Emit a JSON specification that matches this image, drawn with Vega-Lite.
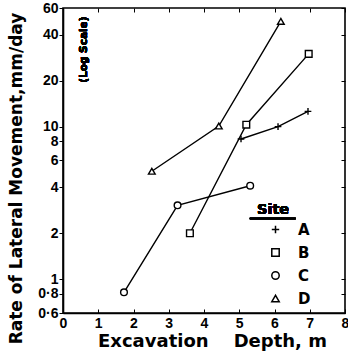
{
  "$schema": "https://vega.github.io/schema/vega-lite/v6.json",
  "width": 282,
  "height": 305,
  "autosize": {"type": "none"},
  "padding": {"left": 63, "top": 8, "right": 3, "bottom": 48},
  "background": "white",
  "config": {
    "view": {"stroke": "black", "strokeWidth": 1.6},
    "font": "DejaVu Sans",
    "axis": {"grid": false, "domainColor": "black", "tickColor": "black", "labelColor": "black", "titleColor": "black", "labelFont": "Liberation Sans", "labelFontWeight": "bold", "labelFontSize": 14, "titleFont": "DejaVu Sans", "titleFontWeight": "bold"}
  },
  "data": {
    "values": [
      {"Site": "A", "depth": 5.05, "rate": 8.3},
      {"Site": "A", "depth": 6.1, "rate": 10},
      {"Site": "A", "depth": 6.95, "rate": 12.6},
      {"Site": "B", "depth": 3.6, "rate": 2},
      {"Site": "B", "depth": 5.2, "rate": 10.3},
      {"Site": "B", "depth": 6.97, "rate": 30},
      {"Site": "C", "depth": 1.73, "rate": 0.82},
      {"Site": "C", "depth": 3.25, "rate": 3.05},
      {"Site": "C", "depth": 5.31, "rate": 4.1},
      {"Site": "D", "depth": 2.52, "rate": 5.1},
      {"Site": "D", "depth": 4.42, "rate": 10.1},
      {"Site": "D", "depth": 6.18, "rate": 49}
    ]
  },
  "resolve": {"axis": {"x": "independent", "y": "independent"}},
  "layer": [
    {
      "mark": {"type": "line", "color": "black", "strokeWidth": 1.4},
      "encoding": {
        "x": {"field": "depth", "type": "quantitative", "scale": {"domain": [0, 8], "nice": false, "zero": false},
          "axis": {"orient": "bottom", "values": [0,1,2,3,4,5,6,7,8], "tickSize": -4, "labelPadding": 7, "domain": true, "domainWidth": 1.6, "labelFlush": false, "title": "Excavation\u00a0\u00a0\u00a0\u00a0Depth, m", "titleFontSize": 18, "titleX": 149, "titleY": 19, "titleBaseline": "top"}},
        "y": {"field": "rate", "type": "quantitative", "scale": {"type": "log", "domain": [0.6, 60], "nice": false},
          "axis": {"orient": "left", "values": [0.6, 0.8, 1, 2, 4, 6, 8, 10, 20, 40, 60], "tickSize": 4, "labelPadding": 1, "labelFlush": false, "labelExpr": "replace(format(datum.value, '~g'), '.', '·')", "domainWidth": 1.6, "title": "Rate of Lateral Movement,mm/day", "titleFontSize": 17, "titleX": -38, "titleY": 170, "titleAngle": 270, "titleBaseline": "bottom"}},
        "detail": {"field": "Site"}
      }
    },
    {
      "mark": {"type": "point", "filled": false, "fill": "white", "color": "black", "strokeWidth": 1.4, "size": 45, "opacity": 1},
      "encoding": {
        "x": {"field": "depth", "type": "quantitative", "scale": {"domain": [0, 8], "nice": false, "zero": false},
          "axis": {"orient": "top", "values": [0,1,2,3,4,5,6,7,8], "tickSize": -4, "labels": false, "domain": false, "title": null}},
        "y": {"field": "rate", "type": "quantitative", "scale": {"type": "log", "domain": [0.6, 60], "nice": false},
          "axis": {"orient": "right", "values": [0.6, 0.8, 1, 2, 4, 6, 8, 10, 20, 40, 60], "tickSize": -4, "labels": false, "domain": false, "title": null}},
        "shape": {"field": "Site", "type": "nominal", "scale": {"domain": ["A", "B", "C", "D"], "range": ["M-1,0H1M0,-1V1", "square", "circle", "triangle-up"]},
          "legend": {"orient": "none", "legendX": 205, "legendY": 214, "title": null, "labelFont": "DejaVu Sans", "labelFontWeight": "bold", "labelFontSize": 15, "labelColor": "black", "labelOffset": 15, "symbolSize": 55, "rowPadding": 7,
            "encode": {"symbols": {"update": {"stroke": {"value": "black"}, "fill": {"value": "white"}, "strokeWidth": {"value": 1.6}, "opacity": {"value": 1}}}}}}
      }
    },
    {
      "mark": {"type": "text", "angle": 270, "baseline": "middle", "align": "center", "font": "DejaVu Sans", "fontWeight": "bold", "fontSize": 10.5, "color": "black", "text": "(Log Scale)"},
      "encoding": {"x": {"datum": 0.6, "type": "quantitative", "axis": null}, "y": {"datum": 32, "type": "quantitative", "axis": null}}
    },
    {
      "mark": {"type": "text", "baseline": "alphabetic", "align": "center", "font": "DejaVu Sans", "fontWeight": "bold", "fontSize": 14.5, "color": "black", "text": "Site"},
      "encoding": {"x": {"datum": 5.96, "type": "quantitative", "axis": null}, "y": {"datum": 2.69, "type": "quantitative", "axis": null}}
    },
    {
      "mark": {"type": "rule", "color": "black", "strokeWidth": 1.3},
      "encoding": {"x": {"datum": 5.3, "type": "quantitative", "axis": null}, "x2": {"datum": 6.6}, "y": {"datum": 2.5, "type": "quantitative", "axis": null}}
    }
  ]
}
